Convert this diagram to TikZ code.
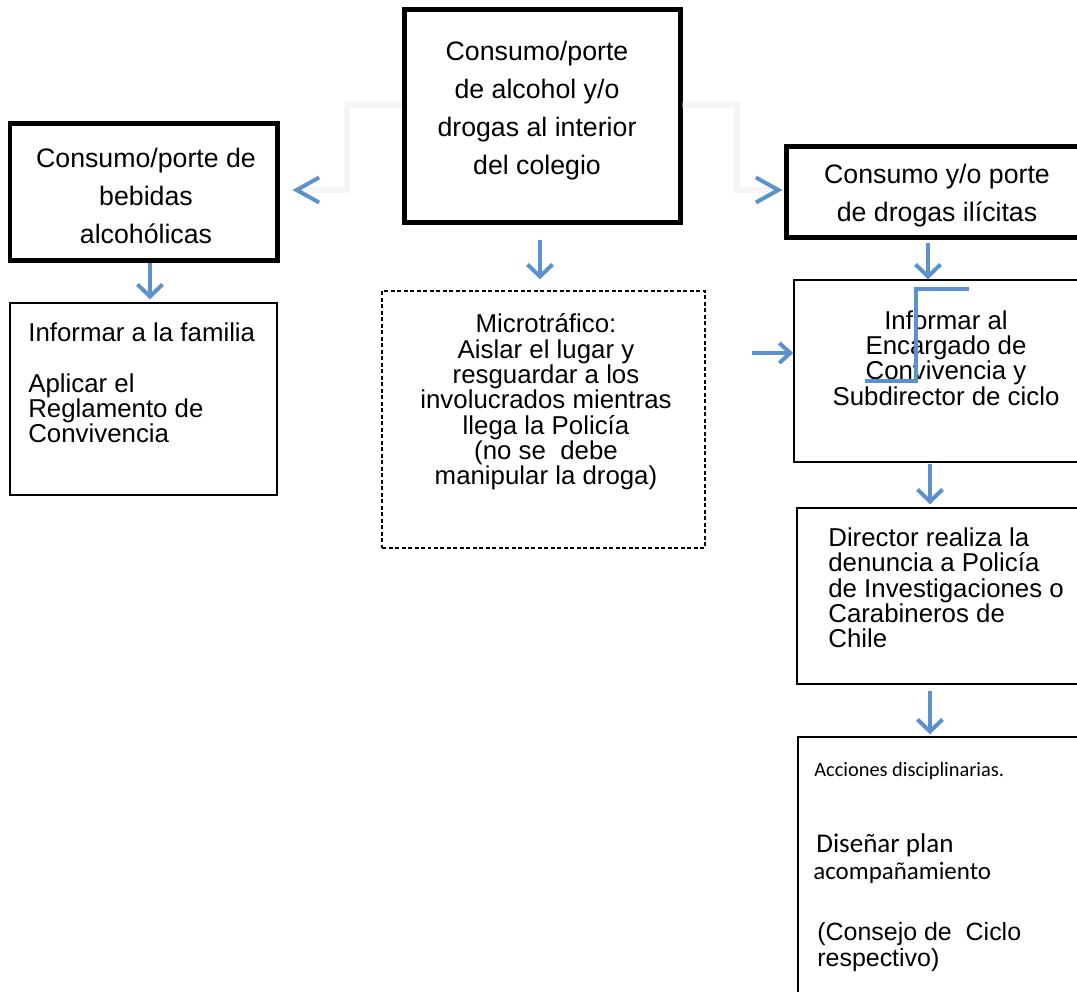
\documentclass[tikz,border=0pt]{standalone}
\usepackage{fontspec}
\setmainfont{Liberation Sans}
\newfontfamily\calibri{Carlito}
\usepackage{tikz}
\usetikzlibrary{arrows.meta,fit,calc}
\definecolor{flowblue}{RGB}{91,146,205}

\begin{document}
\begin{tikzpicture}[x=0.02cm, y=-0.02cm,
    heavybox/.style={draw=black, line width=0.1cm, inner sep=0pt},
    thinbox/.style={draw=black, line width=0.03cm, inner sep=0pt},
    dashbox/.style={draw=black, line width=0.03cm, dash pattern=on 0.08cm off 0.05cm, inner sep=0pt},
    bigtext/.style={align=center, inner sep=0pt, font=\fontsize{15.2}{21.6}\selectfont},
    boxtext/.style={inner sep=0pt, font=\fontsize{14.7}{14.4}\selectfont},
    flow/.style={flowblue, line width=0.08cm, -{Straight Barb[length=0.24cm, width=0.5cm]}},
    ghost/.style={black!4, line width=0.12cm, -{Straight Barb[color=flowblue, length=0.45cm, width=0.5cm, line width=0.08cm]}}]

        \useasboundingbox (0,0) rectangle (1077,991);
        \clip (0,0) rectangle (1077,991);

        %Main
        \node[heavybox, fit={(404,9) (680,222)}] (main) {};
        \node[bigtext] (main-t) at (537,111) {Consumo/porte\\de alcohol y/o\\drogas al interior\\del colegio};
        %Alcohol
        \node[heavybox, fit={(10,123) (277,260)}] (alcohol) {};
        \node[bigtext] (alcohol-t) at (146,196) {Consumo/porte de\\bebidas\\alcohólicas};
        %Drogas
        \node[heavybox, fit={(786,146) (1082,237)}] (drogas) {};
        \node[bigtext] (drogas-t) at (937,196) {Consumo y/o porte\\de drogas ilícitas};
        %Familia
        \node[thinbox, fit={(10,303) (277,495)}] (familia) {};
        \node[boxtext, align=left, anchor=west] (familia-t) at (28,383) {Informar a la familia\\[14.5pt]Aplicar el\\Reglamento de\\Convivencia};
        %Microtrafico
        \node[dashbox, fit={(382,291) (705,548)}] (micro) {};
        \node[boxtext, align=center] (micro-t) at (546,402) {Microtráfico:\\Aislar el lugar y\\resguardar a los\\involucrados mientras\\llega la Policía\\(no se\ \ debe\\manipular la droga)};
        %Encargado
        \node[thinbox, fit={(794,280) (1082,462)}] (encargado) {};
        \node[boxtext, align=center] (encargado-t) at (946,358) {Informar al\\Encargado de\\Convivencia y\\Subdirector de ciclo};
        %Director
        \node[thinbox, fit={(797,508) (1082,684)}] (director) {};
        \node[boxtext, align=left, anchor=west] (director-t) at (828,588) {Director realiza la\\denuncia a Policía\\de Investigaciones o\\Carabineros de\\Chile};
        %Acciones
        \node[thinbox, fit={(798,737) (1082,1000)}] (acciones) {};
        \node[anchor=west, inner sep=0pt, font=\calibri\fontsize{11.6}{14}\selectfont] (acciones-t) at (814,771) {Acciones disciplinarias.};
        \node[anchor=west, inner sep=0pt, font=\calibri\fontsize{15.4}{16}\selectfont] (plan-t) at (816,845) {Diseñar plan};
        \node[anchor=west, inner sep=0pt, font=\calibri\fontsize{14.2}{16}\selectfont] (acomp-t) at (813,873) {acompañamiento};
        \node[anchor=west, inner sep=0pt, align=left, font=\fontsize{14.2}{14.4}\selectfont] (consejo-t) at (817,947) {(Consejo de\ \ Ciclo\\respectivo)};

        %Side connectors
        \coordinate (lbend) at (347,190);
        \coordinate (rbend) at (737,190);
        \draw[ghost] ($(main.west)+(0,-10.5)$) -| (lbend) -- ($(alcohol.east)+(13,-1.5)$);
        \draw[ghost] ($(main.east)+(0,-10.5)$) -| (rbend) -- ($(drogas.west)+(-1,-1.5)$);

        %Down arrows
        \draw[flow] ($(alcohol.south)+(6.5,0)$) -- ($(familia.north)+(6.5,-3)$);
        \draw[flow] ($(main.south)+(-2,15)$) -- ($(micro.north)+(-3.5,-11)$);
        \draw[flow] ($(drogas.south)+(-6,3)$) -- ($(encargado.north)+(-10,0)$);
        \draw[flow] ($(encargado.south)+(-8,1)$) -- ($(director.north)+(-9.5,-3)$);
        \draw[flow] ($(director.south)+(-9.5,6)$) -- ($(acciones.north)+(-10,-2)$);
        \coordinate (entry) at (752,353);
        \draw[flow, -{Straight Barb[length=0.22cm, width=0.4cm]}] (entry) -- (entry -| encargado.west);

        %Stray line
        \coordinate (za) at (969,289);
        \coordinate (zb) at (865,381);
        \draw[flowblue, line width=0.08cm] (za) -- ++(-53,0) |- (zb);
      \end{tikzpicture}
\end{document}
